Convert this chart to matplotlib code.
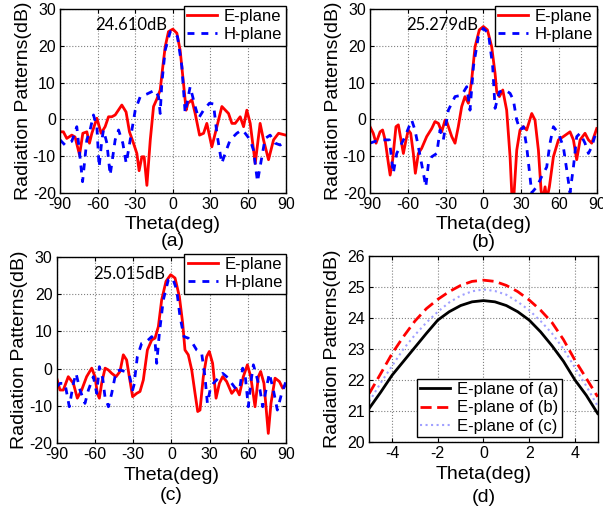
import matplotlib
matplotlib.use('Agg')
import matplotlib.pyplot as plt

plt.rcParams['font.family'] = ['Liberation Sans', 'DejaVu Sans']
plt.rcParams['axes.unicode_minus'] = False

# (a)
a_e_theta = [-90, -87.3, -84.6, -80.6, -78, -74.4, -71.8, -68.6, -66.5, -64.6, -60.6, -57.2, -54, -51.3,
             -48.7, -46, -40.7, -37.3, -34.6, -31.4, -28.7, -26.9, -24.7, -22.9, -20.7, -18, -15.4, -12.8,
             -10.1, -8, -6.1, -3.5, 0, 3.2, 5.8, 8.5, 10.6, 12, 15.2, 17.8, 21.3, 24.5, 27.1, 31.1, 33.8,
             39.1, 44.4, 47.1, 49.7, 53.7, 56.4, 59, 61.7, 65.7, 69.6, 72.3, 76.3, 80.3, 84.3, 90]
a_e_db = [-3.4, -3.4, -5.2, -4.3, -4.8, -9.7, -3.8, -3.4, -6.5, -3.8, 0.3, -3.8, -2, 0.7,
          0.7, 1.2, 3.9, 2, -3.4, -6.5, -9.3, -14, -10.2, -10.2, -18, -5.6, 3.5, 5.5,
          8, 14.4, 19.8, 23.9, 24.6, 23.5, 18.9, 9.8, 2.5, 4.4, 5.3, 1.6, -4.3, -3.8, -1.1, -7.5, -3.8,
          3.5, 1.6, -1.1, -1.1, 0.7, -2, 2.5, -1.1, -12, -1.1, -5.6, -11, -5.6, -3.8, -4.3]
a_h_theta = [-90, -86, -80.6, -76.6, -72, -68.6, -66, -63.3, -60.6, -58.8, -56.6, -55.3, -52.6, -50,
             -46, -43.3, -39.9, -37.2, -34, -30, -26, -20.7, -14.1, -11.4, -10.1, -8.8, -6.1, -2.1, 0.5,
             3.7, 7.2, 9.8, 13.8, 17.8, 20.5, 24.5, 29.2, 32.4, 35.1, 39, 41.7, 45.7, 51, 55, 57.7,
             61.7, 64.3, 67.5, 71, 73.6, 77.6, 81.6, 85.6, 90]
a_h_db = [-5.6, -7, -6, -2, -17, -5.6, -2.9, 1.2, -2, -13, -5.6, -2.9, -6.5, -15.2,
          -5.6, -2.9, -6.5, -12, -5.6, 2.5, 6.2, 6.9, 8, 6.2, 1.6, 9.8, 18.9, 23.9, 23.9,
          22.5, 14.4, 1.8, 8.9, 3.5, 0.3, 2.5, 4.4, 4.2, -3.8, -12, -9.3, -5.6, -3.8, -2.9, -3.8,
          -5.6, -8.4, -17, -10.2, -5.2, -4.3, -6.5, -7, -6]

# (b)
b_e_theta = [-90, -87.4, -85.2, -82, -80, -78, -75.4, -74, -72, -69.4, -67.5, -65.4, -63.5, -61.4,
             -59.6, -57.7, -55.6, -54, -51.6, -49, -45, -41, -38.4, -35.7, -33.1, -30.4, -29.1, -25.1,
             -22.5, -19.9, -17.2, -14.6, -11.9, -9.3, -6.6, -3.2, 0, 3.2, 6.6, 9.3, 10.6, 12.7, 15.4,
             18.5, 21.2, 22.8, 24.4, 26.5, 29.1, 31.8, 34.4, 38.4, 41, 43.7, 45.8, 47.1, 49, 50.3,
             52.4, 55.6, 59.6, 63.5, 68.8, 71.5, 74.1, 76.8, 80.7, 83.4, 86, 90]
b_e_db = [-2, -3.8, -6.5, -3.4, -2.9, -5.6, -12, -15.2, -11, -2, -1.5, -5.6, -9.3, -5.6,
          -2.9, -3.8, -9.3, -14.7, -9.3, -7.9, -4.7, -2.5, -0.6, -1.1, -3.4, -0.2, -0.6, -4.7,
          -6.5, -2, 3.5, 6.2, 4.4, 10.7, 19.8, 24.4, 25.3, 24.4, 19.8, 12.5, 7.5, 6.2, 8,
          2.5, -10.2, -22, -20, -8.4, -2.9, -2, -2.9, 1.6, -0.2, -8.4, -19.3, -22, -18.4, -22,
          -18.4, -10.2, -5.6, -4.7, -3.4, -5.6, -11, -5.6, -3.8, -5.6, -6.5, -2.5]
b_h_theta = [-90, -86, -79.4, -74.6, -71.5, -68.8, -66.2, -62.2, -56.9, -54.3, -51.6, -47.6, -45.7,
             -43.6, -41, -37, -34.4, -31.8, -27.8, -22.5, -17.2, -13.2, -10.6, -7.9, -4, 0, 4, 7.4,
             9.3, 12.7, 17.2, 21.2, 23.8, 26.5, 29.1, 31.8, 34.4, 37, 38.4, 42.4, 46.3, 50.3, 52.9,
             55.6, 59.6, 63.5, 66.2, 68.8, 71.5, 74.1, 76.8, 80.7, 83.4, 86, 90]
b_h_db = [-6.5, -6, -5.6, -5.6, -14.7, -9.3, -7.5, -4.7, -0.2, -2.9, -7.5, -14.7, -18.4,
          -12, -10.2, -9.3, -2.9, -5.6, 2.5, 6.2, 6.6, 8.9, 2.5, 14.4, 22.5, 24.8, 23.5, 14.4,
          3, 7.5, 8, 7.1, 5.3, -0.2, -2.9, -2, -7.5, -15.6, -20, -18.4, -15.6, -13, -6.5,
          -2, -3.8, -7.5, -13.8, -20, -13, -4.7, -3.8, -6.5, -9.3, -7.5, -2.9]

# (c)
c_e_theta = [-90, -87.4, -84.8, -80.9, -76.9, -73.8, -70.4, -66.5, -62.5, -59.9, -58.1, -56.5, -54.7,
             -52, -49.4, -46.8, -43.4, -40.3, -37.7, -35.1, -33, -30.4, -27.2, -24.6, -22, -18.8,
             -15.4, -12.8, -10.2, -7.6, -4.2, -0.5, 2.9, 6.3, 8.9, 10.7, 13.3, 16, 18.6, 20.7, 22.5,
             25.1, 27.7, 29.8, 32.4, 35.1, 37.7, 40.3, 43.4, 47.4, 50.8, 53.4, 56.5, 59.7, 62.3,
             65.7, 68.3, 70.1, 72.7, 74.3, 76.1, 78.2, 81.4, 84.8, 87.4, 90]
c_e_db = [-2.6, -5.8, -5.8, -2.2, -4, -8, -5.8, -2.2, 0.1, -2.2, -6.7, -8, -4,
          0.1, -0.4, -1.3, -2.2, -0.8, 3.7, 2.3, -2.2, -7.6, -6.7, -6.2, -3.1, 5,
          7.7, 8.2, 11.3, 18.5, 23.5, 25.3, 24.4, 19.4, 12.2, 5, 3.7, -0.4, -6.7, -11.6, -11.2,
          -2.2, 3.2, 4.6, 1.4, -8, -4, -2.2, -3.5, -6.7, -5.3, -7.1, -2.2, 1, -2.2,
          -10.3, -2.2, -0.8, -4, -10.3, -17.5, -9.4, -2.6, -3.5, -5.3, -4.4]
c_h_theta = [-90, -87.4, -83.5, -80.1, -76.9, -74.8, -71.7, -67.8, -65.1, -61.2, -58.6, -56.5, -53.9,
             -52.1, -49.4, -46.8, -43.4, -40.3, -36.4, -33, -30.4, -29.3, -26.7, -23.3, -19.4, -15.4,
             -12.8, -11.5, -9.4, -6.3, -2.4, 1, 4.2, 6.8, 9.9, 13.3, 16.7, 19.9, 23.8, 26.4, 28.3,
             30.4, 33, 36.9, 40.3, 43.4, 47.4, 51.3, 53.9, 56, 57.8, 60.4, 62.3, 64.4, 67, 69.6,
             71.7, 74.3, 76.9, 80.1, 83.2, 86.6, 90]
c_h_db = [-4.9, -4, -4, -10.3, -4, -1.3, -5.8, -9.4, -5.8, -2.2, -6.7, 0.5, -2.6,
          -7.6, -10.3, -6.7, -0.8, -0.4, -0.8, -1.7, -5.8, -4.4, 3.2, 6.8, 7.3, 8.6,
          7.3, 1.4, 9.5, 18.5, 23.9, 24.4, 21.2, 14, 8.6, 8.2, 6.8, 5, 4.1, -2.2, -9.4,
          -5.8, -4, -2.6, -1.3, -2.2, -4, -5.8, -4.9, 0.1, -1.3, -10.3, -4, 1, -2.2, -5.8,
          -10.3, -5.8, -1.3, -5.8, -11.2, -6.7, -3.5]

# (d) zoom on the main lobe, E-plane only
d_theta = [-5, -4.5, -4, -3.5, -3, -2.5, -2, -1.5, -1, -0.5, 0, 0.5, 1, 1.5, 2, 2.5, 3, 3.5, 4, 4.5, 5]
d_a = [21.08, 21.6, 22.15, 22.6, 23.05, 23.5, 23.93, 24.2, 24.4, 24.52, 24.56, 24.52, 24.4, 24.2,
       23.93, 23.55, 23.1, 22.6, 22.0, 21.5, 20.91]
d_b = [21.56, 22.2, 22.85, 23.4, 23.9, 24.3, 24.6, 24.85, 25.05, 25.18, 25.22, 25.18, 25.05, 24.85,
       24.58, 24.25, 23.85, 23.3, 22.64, 22.05, 21.45]
d_c = [21.3, 21.9, 22.45, 23.0, 23.45, 23.85, 24.2, 24.5, 24.72, 24.86, 24.92, 24.87, 24.75, 24.52,
       24.25, 23.9, 23.5, 23.0, 22.4, 21.8, 21.15]

peaks = ['24.610dB', '25.279dB', '25.015dB']
tags = ['(a)', '(b)', '(c)', '(d)']

fig = plt.figure(figsize=(6.03, 5.09), dpi=100)
ax_a = fig.add_axes([0.0995, 0.6214, 0.3743, 0.3603])
ax_b = fig.add_axes([0.6136, 0.6214, 0.3760, 0.3603])
ax_c = fig.add_axes([0.0940, 0.1303, 0.3803, 0.3642])
ax_d = fig.add_axes([0.6124, 0.1322, 0.3788, 0.3648])


def style(ax, tag, tag_y):
    ax.grid(True, linestyle=':', color='#808080', linewidth=0.8)
    ax.tick_params(direction='in', top=True, right=True, length=3, labelsize=11.5, pad=3)
    for s in ax.spines.values():
        s.set_linewidth(1.0)
    ax.set_xlabel('Theta(deg)', fontsize=14)
    ax.xaxis.set_label_coords(0.5, -0.175)
    ax.xaxis.label.set_verticalalignment('center')
    ax.set_ylabel('Radiation Patterns(dB)', fontsize=14)
    ax.yaxis.set_label_coords(-0.16, 0.5)
    ax.yaxis.label.set_verticalalignment('center')
    ax.text(0.5, tag_y, tag, transform=ax.transAxes, ha='center', va='center', fontsize=14)


panels = [(ax_a, a_e_theta, a_e_db, a_h_theta, a_h_db),
          (ax_b, b_e_theta, b_e_db, b_h_theta, b_h_db),
          (ax_c, c_e_theta, c_e_db, c_h_theta, c_h_db)]
tag_ys = [-0.265, -0.27, -0.287]

for i, (ax, et, ed, ht, hd) in enumerate(panels):
    ax.plot(et, ed, color='red', linewidth=2, label='E-plane')
    ax.plot(ht, hd, color='blue', linewidth=2, linestyle=(0, (2.5, 2.5)), label='H-plane')
    ax.set_xlim(-90, 90)
    ax.set_ylim(-20, 30)
    ax.set_xticks([-90, -60, -30, 0, 30, 60, 90])
    ax.set_yticks([-20, -10, 0, 10, 20, 30])
    ax.text(-33, 25.6, peaks[i], ha='center', va='center', fontsize=12, family=['Lato', 'DejaVu Sans'])
    leg = ax.legend(loc='upper right', bbox_to_anchor=(1.0, 1.02), fontsize=12, fancybox=False,
                    edgecolor='black', framealpha=1, borderaxespad=0, borderpad=0.2,
                    labelspacing=0.2, handlelength=1.8, handletextpad=0.4)
    leg.get_frame().set_linewidth(1.0)
    style(ax, tags[i], tag_ys[i])

ax_d.plot(d_theta, d_a, color='black', linewidth=2, label='E-plane of (a)')
ax_d.plot(d_theta, d_b, color='red', linewidth=2, linestyle=(0, (4, 2)), label='E-plane of (b)')
ax_d.plot(d_theta, d_c, color='#a0a0ff', linewidth=1.5, linestyle=':', label='E-plane of (c)')
ax_d.set_xlim(-5, 5)
ax_d.set_ylim(20, 26)
ax_d.set_xticks([-4, -2, 0, 2, 4])
ax_d.set_yticks([20, 21, 22, 23, 24, 25, 26])
leg = ax_d.legend(loc='lower left', bbox_to_anchor=(0.209, 0.025), fontsize=12, fancybox=False,
                  edgecolor='black', framealpha=1, borderaxespad=0, borderpad=0.2,
                  labelspacing=0.2, handlelength=1.8, handletextpad=0.4)
leg.get_frame().set_linewidth(1.0)
style(ax_d, tags[3], -0.298)

fig.savefig('out.png', dpi=100)
